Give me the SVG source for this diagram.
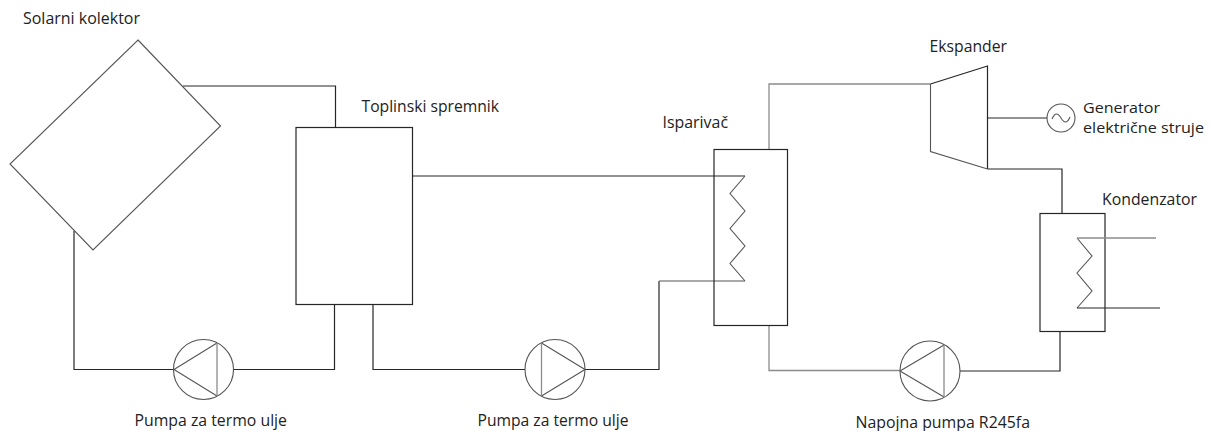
<svg xmlns="http://www.w3.org/2000/svg" width="1213" height="431" viewBox="0 0 1213 431">
<style>
.l{fill:none;stroke:#262626;stroke-width:1.2;stroke-linejoin:miter}
.g{fill:none;stroke:#8c8c8c;stroke-width:1.3}
.h{fill:none;stroke:#555;stroke-width:1.1}
text{font-family:"Open Sans","Noto Sans","DejaVu Sans",sans-serif;font-size:15.5px;fill:#222}
.s{font-size:14px}
</style>
<rect width="1213" height="431" fill="#fff"/>
<g id="connectors">
<path class="l" d="M183 86H335.500V127.500"/>
<path class="l" d="M74 231V369.500H174"/>
<path class="l" d="M233.500 369.500H334.500V304.500"/>
<path class="l" d="M373 304.500V369.500H525"/>
<path class="l" d="M585 369.500H659V281"/>
<path class="g" d="M659 281H745"/>
<path class="l" d="M412.500 176H745"/>
<path class="g" d="M769 149.500V84H930.500"/>
<path class="g" d="M769 325.500V370.500H900"/>
<path class="l" d="M960 371H1060V331.500"/>
<path class="l" d="M987.500 118H1047"/>
<path class="l" d="M987.500 169H1062V213.500"/>
</g>
<g id="solarni-kolektor">
<polygon class="h" points="138,40 220.500,126 93,250 10,164"/>
<text x="23" y="24" textLength="117" lengthAdjust="spacingAndGlyphs">Solarni kolektor</text>
</g>
<g id="toplinski-spremnik">
<rect class="l" x="296" y="127.500" width="116.500" height="177"/>
<text x="361.500" y="112" textLength="137.500" lengthAdjust="spacingAndGlyphs">Toplinski spremnik</text>
</g>
<g id="pumpa-1">
<circle class="h" cx="203.500" cy="369.500" r="30"/>
<path class="h" d="M174 369.500L217 343M174 369.500L217 396"/>
<path class="g" d="M217 343V396"/>
<text x="134.500" y="426" textLength="152.500" lengthAdjust="spacingAndGlyphs">Pumpa za termo ulje</text>
</g>
<g id="pumpa-2">
<circle class="h" cx="555" cy="369.500" r="30"/>
<path class="h" d="M585 369.500L541.500 343M585 369.500L541.500 396"/>
<path class="g" d="M541.500 343V396"/>
<text x="477.500" y="426" textLength="151" lengthAdjust="spacingAndGlyphs">Pumpa za termo ulje</text>
</g>
<g id="isparivac">
<rect class="l" x="714" y="149.500" width="73.500" height="176"/>
<path class="h" d="M745 176L730 193.500L745 211L730 228.500L745 246L730 263.500L745 281"/>
<text x="662.500" y="128" textLength="65.500" lengthAdjust="spacingAndGlyphs">Isparivač</text>
</g>
<g id="ekspander">
<path class="l" d="M987.500 169V66L930.500 84"/>
<path class="h" d="M930.500 84V151.500L987.500 169"/>
<text x="929.500" y="52" textLength="77.500" lengthAdjust="spacingAndGlyphs">Ekspander</text>
</g>
<g id="generator">
<circle class="h" cx="1061" cy="118" r="14"/>
<path class="h" d="M1052 119C1055 112 1058 113 1061 118S1067 124 1070 117"/>
<text class="s" x="1083" y="112.500" textLength="77" lengthAdjust="spacingAndGlyphs">Generator</text>
<text class="s" x="1083" y="132.500" textLength="121" lengthAdjust="spacingAndGlyphs">električne struje</text>
</g>
<g id="kondenzator">
<rect class="l" x="1040" y="213.500" width="65" height="118"/>
<path class="h" d="M1077 238L1092 256L1077 273L1092 291L1077 308"/>
<path class="g" d="M1077 238H1156"/>
<path class="l" d="M1077 308H1160"/>
<text x="1102" y="205" textLength="95" lengthAdjust="spacingAndGlyphs">Kondenzator</text>
</g>
<g id="napojna-pumpa">
<circle class="h" cx="930" cy="371" r="30"/>
<path class="h" d="M900 371L944 345M900 371L944 397"/>
<path class="g" d="M944 345V397"/>
<text x="855.500" y="428" textLength="174.500" lengthAdjust="spacingAndGlyphs">Napojna pumpa R245fa</text>
</g>
</svg>
